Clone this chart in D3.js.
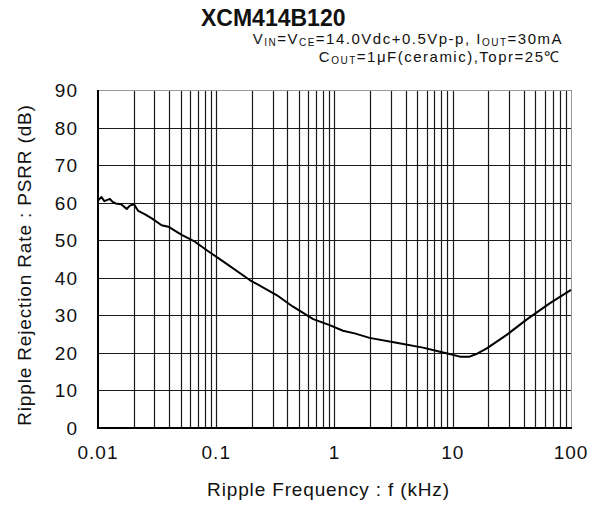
<!DOCTYPE html>
<html><head><meta charset="utf-8">
<script src="https://cdn.jsdelivr.net/npm/d3@7"></script>
<style>
body{margin:0;background:#fff;}
text{font-family:"Liberation Sans",Arial,sans-serif;fill:#111;}
</style></head>
<body><svg id="c" width="602" height="507"></svg>
<script>
const freq = [0.01,0.0107,0.0113,0.0126,0.0132,0.0141,0.0157,0.0175,0.0186,0.0201,0.0219,0.025,0.0285,0.0345,0.0393,0.051,0.066,0.088,0.115,0.192,0.324,0.446,0.66,0.91,1.18,1.48,1.98,3.34,5.6,7.8,9.4,11.5,13.9,15.8,19.4,28.6,41.8,66,100];
const psrr = [60.6,61.5,60.4,61.0,60.3,59.8,59.6,58.3,59.2,59.6,57.8,56.9,55.8,54.0,53.6,51.4,49.6,46.8,44.3,39.4,35.4,32.3,29.0,27.4,25.9,25.2,24.0,22.7,21.4,20.3,19.7,19.0,19.0,19.7,21.2,24.8,28.8,33.2,36.8];
const xTicks = [0.01,0.1,1,10,100];
const xTickLabels = ["0.01","0.1","1","10","100"];
const yTicks = [0,10,20,30,40,50,60,70,80,90];

const svg = d3.select("#c");
const L=98,R=571,T=90,B=428;
const x = d3.scaleLog().domain([0.01,100]).range([L,R]);
const y = d3.scaleLinear().domain([0,90]).range([B,T]);

const vgrid=[];
for(let d=0.01; d<100; d*=10){ for(let k=1;k<=9;k++){ const v=+(d*k).toPrecision(3); if(v>0.01&&v<100) vgrid.push(v);} }
const g=svg.append("g");
g.selectAll("line.v").data(vgrid).join("line")
 .attr("x1",d=>Math.round(x(d))+0.5).attr("x2",d=>Math.round(x(d))+0.5)
 .attr("y1",T).attr("y2",B).attr("stroke","#1a1a1a").attr("stroke-width",1.2);
g.selectAll("line.h").data(yTicks.filter(v=>v>0&&v<90)).join("line")
 .attr("x1",L).attr("x2",R).attr("y1",d=>Math.round(y(d))+0.5).attr("y2",d=>Math.round(y(d))+0.5)
 .attr("stroke","#1a1a1a").attr("stroke-width",1.2);
svg.append("line").attr("x1",L).attr("x2",R).attr("y1",T+0.5).attr("y2",T+0.5).attr("stroke","#999");
svg.append("line").attr("x1",R+0.5).attr("x2",R+0.5).attr("y1",T).attr("y2",B).attr("stroke","#999");
svg.append("line").attr("x1",L).attr("x2",L).attr("y1",T).attr("y2",B+1).attr("stroke","#000").attr("stroke-width",2);
svg.append("line").attr("x1",L-1).attr("x2",R+1).attr("y1",B).attr("y2",B).attr("stroke","#000").attr("stroke-width",2);

svg.append("path").datum(freq.map((f,i)=>[f,psrr[i]]))
 .attr("fill","none").attr("stroke","#000").attr("stroke-width",2).attr("stroke-linejoin","round")
 .attr("d",d3.line().x(d=>x(d[0])).y(d=>y(d[1])));

svg.selectAll("text.xt").data(xTicks).join("text")
 .attr("x",d=>x(d)).attr("y",459).attr("text-anchor","middle").attr("font-size",19).attr("letter-spacing",1)
 .text((d,i)=>xTickLabels[i]);
svg.selectAll("text.yt").data(yTicks).join("text")
 .attr("x",78).attr("y",d=>y(d)+7).attr("text-anchor","end").attr("font-size",19).attr("letter-spacing",1)
 .text(d=>d);

svg.append("text").attr("x",(L+R)/2-6).attr("y",496).attr("text-anchor","middle").attr("font-size",19).attr("letter-spacing",0.85)
 .text("Ripple Frequency : f (kHz)");
svg.append("text").attr("transform","translate(31,"+((T+B)/2+6)+") rotate(-90)").attr("text-anchor","middle").attr("font-size",19).attr("letter-spacing",0.85)
 .text("Ripple Rejection Rate : PSRR (dB)");

svg.append("text").attr("x",201).attr("y",26).attr("font-size",23).attr("font-weight","bold").text("XCM414B120");
const s1=svg.append("text").attr("x",563).attr("y",44).attr("text-anchor","end").attr("font-size",15).attr("letter-spacing",1.5);
s1.append("tspan").text("V");
s1.append("tspan").attr("font-size",10).attr("dy",1.5).text("IN");
s1.append("tspan").attr("dy",-1.5).text("=V");
s1.append("tspan").attr("font-size",10).attr("dy",1.5).text("CE");
s1.append("tspan").attr("dy",-1.5).text("=14.0Vdc+0.5Vp-p, I");
s1.append("tspan").attr("font-size",10).attr("dy",1.5).text("OUT");
s1.append("tspan").attr("dy",-1.5).text("=30mA");
const s2=svg.append("text").attr("x",561).attr("y",62).attr("text-anchor","end").attr("font-size",15).attr("letter-spacing",1.5);
s2.append("tspan").text("C");
s2.append("tspan").attr("font-size",10).attr("dy",1.5).text("OUT");
s2.append("tspan").attr("dy",-1.5).text("=1μF(ceramic),Topr=25℃");
</script></body></html>
